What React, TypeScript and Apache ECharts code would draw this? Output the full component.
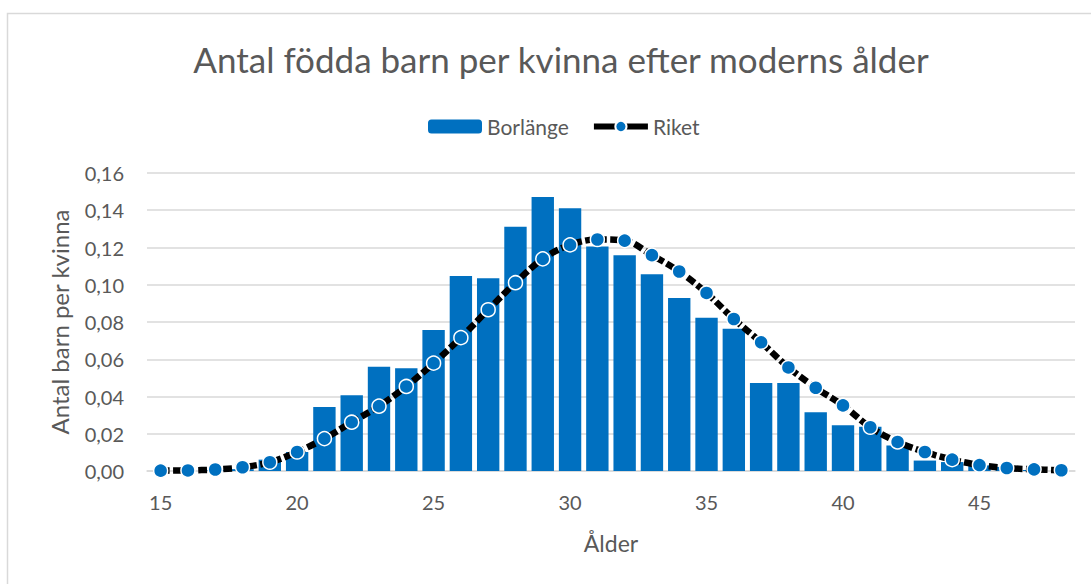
import React, { useEffect, useRef } from "react";
import * as echarts from "echarts";

const ages: string[] = [
  "15", "16", "17", "18", "19", "20", "21", "22", "23", "24", "25", "26",
  "27", "28", "29", "30", "31", "32", "33", "34", "35", "36", "37", "38",
  "39", "40", "41", "42", "43", "44", "45", "46", "47", "48",
];

const borlange: number[] = [
  0, 0, 0.0004, 0.001, 0.0061, 0.0102, 0.0343, 0.0407, 0.056, 0.0552, 0.0757, 0.1047,
  0.1035, 0.1311, 0.1471, 0.1411, 0.1205, 0.1159, 0.1056, 0.0929, 0.0823, 0.0764, 0.0473, 0.0473,
  0.0316, 0.0246, 0.0237, 0.0137, 0.0056, 0.0048, 0.003, 0.0022, 0.0006, 0,
];

const riket: number[] = [
  0.0002, 0.0003, 0.0008, 0.002, 0.0047, 0.0102, 0.0174, 0.0262, 0.0348, 0.0454, 0.0579, 0.0716,
  0.0866, 0.1011, 0.1139, 0.1214, 0.1243, 0.1237, 0.1159, 0.1071, 0.0956, 0.0816, 0.0691, 0.0556,
  0.0447, 0.0352, 0.0235, 0.0156, 0.0102, 0.0061, 0.0032, 0.0016, 0.0009, 0.0004,
];

const yTicks = { min: 0, max: 0.16, interval: 0.02 };

const FONT = "Lato, 'Open Sans', sans-serif";
const GRAY = "#595959";
const GRID = "#d9d9d9";
const BLUE = "#0070C0";

export default function App() {
  const ref = useRef<HTMLDivElement>(null);

  useEffect(() => {
    document.body.style.margin = "0";
    if (!ref.current) return;
    const chart = echarts.init(ref.current, undefined, { renderer: "svg" });
    chart.setOption({
      animation: false,
      backgroundColor: "#ffffff",
      textStyle: { fontFamily: FONT },
      graphic: [
        {
          type: "rect",
          shape: { x: 7.5, y: 13.5, width: 1200, height: 700 },
          style: { fill: "none", stroke: GRID, lineWidth: 1.5 },
          silent: true,
        },
      ],
      title: {
        text: "Antal födda barn per kvinna efter moderns ålder",
        left: 556,
        textAlign: "center",
        top: 36,
        textStyle: {
          fontFamily: FONT,
          fontSize: 35,
          fontWeight: "normal",
          color: GRAY,
        },
      },
      legend: {
        left: 423,
        top: 111,
        itemWidth: 54,
        itemHeight: 14,
        itemGap: 22,
        textStyle: { fontFamily: FONT, fontSize: 21, color: GRAY },
        data: [
          { name: "Borlänge" },
          {
            name: "Riket",
            lineStyle: { type: "solid", width: 6, color: "#000000" },
          },
        ],
      },
      grid: { left: 147, right: 16, top: 173, bottom: 113, containLabel: false },
      xAxis: {
        type: "category",
        data: ages,
        boundaryGap: true,
        name: "Ålder",
        nameLocation: "middle",
        nameGap: 60,
        nameTextStyle: { fontFamily: FONT, fontSize: 23, color: GRAY },
        axisLine: { lineStyle: { color: GRID, width: 1.5 } },
        axisTick: { show: false },
        axisLabel: {
          interval: (index: number) => index % 5 === 0,
          margin: 21,
          fontFamily: FONT,
          fontSize: 20,
          color: GRAY,
        },
      },
      yAxis: {
        type: "value",
        min: yTicks.min,
        max: yTicks.max,
        interval: yTicks.interval,
        name: "Antal barn per kvinna",
        nameLocation: "middle",
        nameGap: 76,
        nameTextStyle: { fontFamily: FONT, fontSize: 24, color: GRAY },
        axisLine: { show: false },
        axisTick: { show: false },
        splitLine: { lineStyle: { color: GRID, width: 1.5 } },
        axisLabel: {
          margin: 23,
          fontFamily: FONT,
          fontSize: 20,
          color: GRAY,
          formatter: (v: number) => v.toFixed(2).replace(".", ","),
        },
      },
      series: [
        {
          name: "Borlänge",
          type: "bar",
          data: borlange,
          barCategoryGap: "18%",
          itemStyle: { color: BLUE },
        },
        {
          name: "Riket",
          type: "line",
          data: riket,
          smooth: 0.35,
          symbol: "circle",
          symbolSize: 14,
          lineStyle: { color: "#000000", width: 6.5, type: [9, 3.5], cap: "butt" },
          itemStyle: { color: BLUE, borderColor: "#ffffff", borderWidth: 1.5 },
          z: 5,
        },
      ],
    });
    return () => chart.dispose();
  }, []);

  return <div ref={ref} style={{ width: 1091, height: 584 }} />;
}
